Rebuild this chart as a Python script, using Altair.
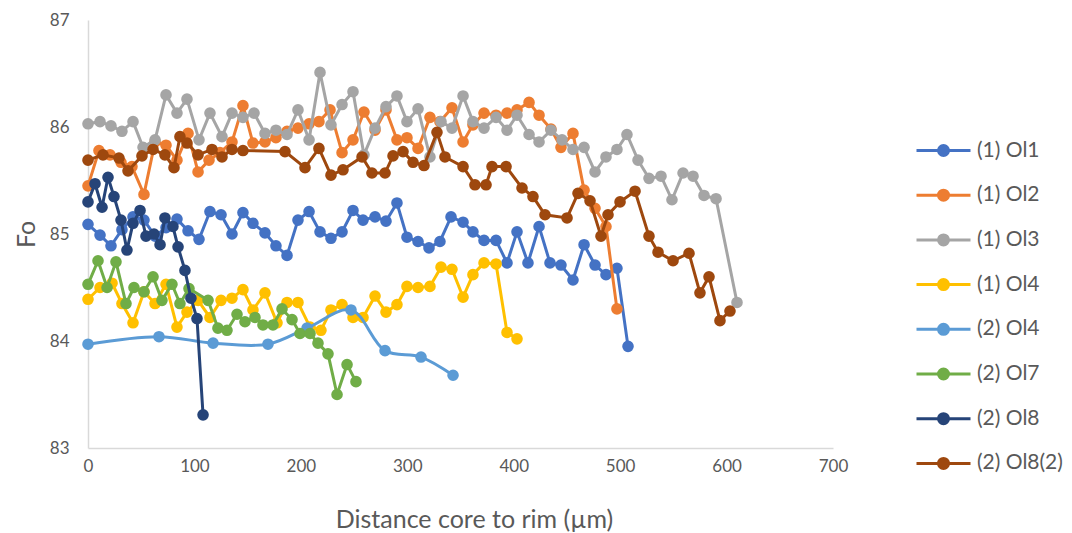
import altair as alt
import pandas as pd

series_names = ["(1) Ol1", "(1) Ol2", "(1) Ol3", "(1) Ol4", "(2) Ol4", "(2) Ol7", "(2) Ol8", "(2) Ol8(2)"]
series_colors = ["#4472C4", "#ED7D31", "#A5A5A5", "#FFC000", "#5B9BD5", "#70AD47", "#264478", "#9E480E"]

ol1_x = [0, 11.3, 21.6, 31.9, 42.3, 52.6, 63.0, 73.3, 83.6, 94.0, 104.3, 114.6, 125.0, 135.3, 145.6, 155.0, 166.3,
         176.6, 187.0, 197.3, 207.7, 218.0, 228.3, 238.7, 249.0, 258.4, 269.7, 280.0, 290.3, 299.7, 310.1, 320.4,
         330.7, 341.1, 352.4, 361.7, 372.1, 383.4, 393.7, 403.1, 413.4, 423.8, 434.1, 444.4, 455.7, 466.1, 476.4,
         486.7, 497.0, 507.4]
ol1_fo = [85.09, 84.99, 84.89, 85.04, 85.16, 85.13, 84.98, 85.06, 85.14, 85.03, 84.95, 85.21, 85.18, 85.00, 85.20,
          85.10, 85.01, 84.89, 84.80, 85.13, 85.21, 85.02, 84.96, 85.02, 85.22, 85.13, 85.16, 85.12, 85.29, 84.97,
          84.93, 84.87, 84.93, 85.16, 85.11, 85.02, 84.94, 84.94, 84.73, 85.02, 84.73, 85.07, 84.73, 84.71, 84.57,
          84.90, 84.71, 84.62, 84.68, 83.95]

ol2_x = [0, 10.3, 20.7, 31.0, 41.3, 52.6, 63.0, 73.3, 83.6, 94.0, 103.4, 113.7, 124.0, 135.3, 145.6, 155.0, 166.3,
         176.6, 187.0, 197.3, 207.7, 217.0, 227.4, 238.7, 249.0, 259.3, 269.7, 280.0, 290.3, 299.7, 310.1, 321.3,
         330.7, 342.0, 352.4, 361.7, 372.1, 383.4, 393.7, 403.1, 414.4, 423.8, 435.0, 444.4, 455.7, 466.1, 476.4,
         486.7, 497.0]
ol2_fo = [85.45, 85.78, 85.74, 85.67, 85.63, 85.37, 85.86, 85.83, 85.69, 85.94, 85.58, 85.69, 85.76, 85.86, 86.20,
          85.85, 85.86, 85.90, 85.96, 85.99, 86.03, 86.05, 86.16, 85.76, 85.88, 86.14, 85.97, 86.16, 85.88, 85.90,
          85.80, 86.09, 86.05, 86.18, 85.86, 86.02, 86.13, 86.11, 86.13, 86.16, 86.23, 86.11, 85.98, 85.81, 85.94,
          85.41, 85.24, 85.07, 84.30]

ol3_x = [0, 11.3, 21.6, 31.9, 42.3, 51.7, 63.0, 73.3, 83.6, 93.0, 104.3, 114.6, 125.9, 135.3, 145.6, 156.0, 166.3,
         176.6, 187.0, 197.3, 207.7, 218.0, 228.3, 238.7, 249.0, 259.3, 269.7, 280.0, 290.3, 299.7, 310.1, 321.3,
         331.7, 342.0, 352.4, 361.7, 372.1, 383.4, 393.7, 403.1, 414.4, 423.8, 435.0, 445.4, 455.7, 466.1, 476.4,
         486.7, 497.0, 506.4, 516.8, 527.1, 538.4, 548.7, 559.1, 568.5, 578.8, 590.1, 609.8]
ol3_fo = [86.03, 86.05, 86.01, 85.96, 86.05, 85.81, 85.88, 86.30, 86.13, 86.26, 85.88, 86.13, 85.91, 86.13, 86.09,
          86.13, 85.94, 85.97, 85.93, 86.16, 85.88, 86.51, 86.02, 86.21, 86.33, 85.74, 85.99, 86.19, 86.29, 86.05,
          86.17, 85.72, 86.05, 85.99, 86.29, 86.05, 85.99, 86.09, 85.97, 86.11, 85.93, 85.86, 85.97, 85.88, 85.79,
          85.81, 85.58, 85.72, 85.79, 85.93, 85.69, 85.52, 85.54, 85.32, 85.57, 85.54, 85.36, 85.33, 84.36]

ol4a_x = [0, 11.3, 22.6, 31.9, 42.3, 52.6, 63.0, 73.3, 83.6, 93.0, 103.4, 114.6, 125.0, 135.3, 145.6, 155.0, 166.3,
          177.6, 187.0, 197.3, 208.6, 218.9, 228.3, 238.7, 249.0, 258.4, 269.7, 280.0, 290.3, 299.7, 310.1, 321.3,
          331.7, 342.0, 352.4, 361.7, 372.1, 383.4, 393.7, 403.1]
ol4a_fo = [84.39, 84.50, 84.54, 84.35, 84.17, 84.46, 84.35, 84.53, 84.13, 84.27, 84.38, 84.22, 84.38, 84.40, 84.48,
           84.29, 84.45, 84.17, 84.36, 84.36, 84.13, 84.10, 84.29, 84.34, 84.22, 84.22, 84.42, 84.27, 84.34, 84.51,
           84.50, 84.51, 84.69, 84.67, 84.41, 84.62, 84.73, 84.72, 84.08, 84.02]

ol4b_x = [0, 66.7, 117.5, 169.1, 205.8, 247.1, 279.1, 312.9, 343.0]
ol4b_fo = [83.97, 84.04, 83.98, 83.97, 84.12, 84.29, 83.91, 83.85, 83.68]

ol7_x = [0, 9.4, 17.9, 26.3, 35.7, 43.2, 52.6, 61.1, 69.5, 78.9, 86.4, 94.9, 112.8, 122.1, 130.6, 140.0, 147.5,
         156.9, 164.4, 173.8, 182.3, 191.7, 199.2, 208.6, 216.1, 225.5, 234.0, 243.4, 251.8]
ol7_fo = [84.53, 84.75, 84.50, 84.74, 84.35, 84.50, 84.46, 84.60, 84.38, 84.53, 84.35, 84.49, 84.38, 84.12, 84.10,
          84.25, 84.18, 84.22, 84.15, 84.15, 84.30, 84.20, 84.07, 84.07, 83.98, 83.88, 83.50, 83.78, 83.62]

ol8_x = [0, 6.6, 13.2, 18.8, 24.4, 31.0, 36.6, 42.3, 48.9, 54.5, 62.0, 67.7, 72.3, 79.8, 84.6, 91.1, 96.7, 102.4, 108.1]
ol8_fo = [85.30, 85.47, 85.25, 85.53, 85.35, 85.13, 84.85, 85.10, 85.22, 84.98, 85.00, 84.90, 85.15, 85.07, 84.88,
          84.66, 84.40, 84.21, 83.31]

ol8b_x = [0, 14.1, 29.1, 37.6, 50.7, 61.1, 72.3, 80.8, 86.4, 93.0, 103.4, 116.5, 125.9, 135.3, 145.6, 185.1, 203.9,
          217.0, 228.3, 239.6, 257.5, 266.8, 279.1, 286.6, 296.0, 305.4, 315.7, 327.9, 335.4, 352.4, 363.6, 374.0,
          379.6, 392.8, 407.8, 418.1, 429.4, 450.1, 460.4, 471.7, 482.0, 488.6, 499.9, 514.0, 527.1, 535.6, 549.7,
          564.7, 575.0, 583.5, 593.8, 603.2]
ol8b_fo = [85.69, 85.74, 85.71, 85.59, 85.73, 85.79, 85.74, 85.62, 85.91, 85.85, 85.74, 85.79, 85.72, 85.79, 85.78,
           85.77, 85.62, 85.80, 85.55, 85.60, 85.72, 85.57, 85.57, 85.73, 85.77, 85.67, 85.64, 85.95, 85.72, 85.63,
           85.46, 85.46, 85.63, 85.63, 85.43, 85.35, 85.18, 85.15, 85.38, 85.31, 84.98, 85.18, 85.30, 85.40, 84.98,
           84.83, 84.75, 84.82, 84.45, 84.60, 84.19, 84.28]

x_ticks = [0, 100, 200, 300, 400, 500, 600, 700]
y_ticks = [83, 84, 85, 86, 87]

all_x = [ol1_x, ol2_x, ol3_x, ol4a_x, ol4b_x, ol7_x, ol8_x, ol8b_x]
all_fo = [ol1_fo, ol2_fo, ol3_fo, ol4a_fo, ol4b_fo, ol7_fo, ol8_fo, ol8b_fo]

rows = []
for name, xs, ys in zip(series_names, all_x, all_fo):
    for i, (xv, yv) in enumerate(zip(xs, ys)):
        rows.append({"series": name, "dist": xv, "fo": yv, "idx": i})
df = pd.DataFrame(rows)

FONT = "Lato"
TXT = "#595959"

# legend symbol: line with a filled dot (dot built from concentric stroked rings)
def ring(r):
    return f"M{r},0A{r},{r},0,1,1,{-r},0A{r},{r},0,1,1,{r},0"
legend_path = "M-1,0H1" + "".join(ring(r) for r in [0.185, 0.13, 0.074, 0.02])

color = alt.Color(
    "series:N",
    scale=alt.Scale(domain=series_names, range=series_colors),
    legend=alt.Legend(
        title=None, orient="none", legendX=827, legendY=102, direction="vertical",
        symbolType=legend_path, symbolSize=2916, symbolStrokeWidth=3, symbolOpacity=1,
        labelFont=FONT, labelFontSize=21, labelColor=TXT, labelOffset=5, rowPadding=4.7,
    ),
)

x_enc = alt.X(
    "dist:Q",
    scale=alt.Scale(domain=[0, 700], nice=False),
    axis=alt.Axis(values=x_ticks, title="Distance core to rim (µm)", titlePadding=33, titleX=386,
                  labelPadding=10, labelFlush=False),
)
y_enc = alt.Y(
    "fo:Q",
    scale=alt.Scale(domain=[83, 87], nice=False, zero=False),
    axis=alt.Axis(values=y_ticks, title="Fo", titlePadding=10, labelPadding=19),
)

base = alt.Chart(df)
layers = []
for name in series_names:
    sub = base.transform_filter(alt.datum.series == name)
    interp = "catmull-rom" if name == "(2) Ol4" else "linear"
    layers.append(
        sub.mark_line(strokeWidth=3, interpolate=interp).encode(
            x=x_enc, y=y_enc, color=color, order="idx:Q"
        )
    )
    layers.append(
        sub.mark_circle(size=135, opacity=1).encode(x=x_enc, y=y_enc, color=color)
    )

chart = (
    alt.layer(*layers)
    .properties(
        width=745, height=428,
        padding={"left": 88, "top": 20, "right": 239, "bottom": 85},
        autosize=alt.AutoSizeParams(type="none"),
        background="white",
    )
    .configure_view(stroke=None)
    .configure_axis(
        grid=False, ticks=False, tickSize=0, domainColor="#D9D9D9", domainWidth=1.5,
        labelFont=FONT, labelFontSize=17, labelColor=TXT,
        titleFont=FONT, titleFontSize=25, titleColor=TXT, titleFontWeight="normal",
    )
)

chart.save("out.html", embed_options={"renderer": "svg", "actions": False})
